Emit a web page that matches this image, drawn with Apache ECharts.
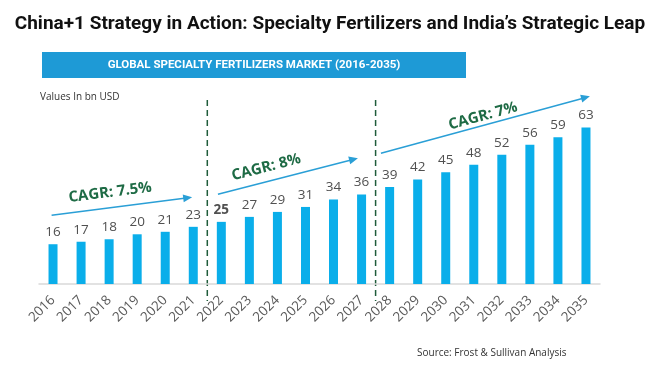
<!DOCTYPE html>
<html><head><meta charset="utf-8">
<script src="https://cdn.jsdelivr.net/npm/echarts@6/dist/echarts.min.js"></script>
<style>html,body{margin:0;padding:0;background:#fff}#c{width:660px;height:377px}</style>
</head><body><div id="c"></div>
<script>
const years = ['2016','2017','2018','2019','2020','2021','2022','2023','2024','2025','2026','2027','2028','2029','2030','2031','2032','2033','2034','2035'];
const values = [16,17,18,20,21,23,25,27,29,31,34,36,39,42,45,48,52,56,59,63];
const boldLabelYears = ['2022'];
const dividerYears = ['2022','2028'];
const cagrLabels = ['CAGR: 7.5%','CAGR: 8%','CAGR: 7%'];
// arrow ends in data units: [category index, value]
const arrowStarts = [[-0.05,27.7],[5.88,36.1],[11.69,52.6]];
const arrowEnds = [[4.96,34.9],[10.87,50.6],[19.14,75.5]];

const chart = echarts.init(document.getElementById('c'));
const FONT = '"Open Sans", "Noto Sans", sans-serif';
const option = {
  animation:false,
  grid:{left:39,right:60,top:110,bottom:93},
  xAxis:{type:'category',data:years,
    axisLine:{lineStyle:{color:'#d9d9d9',width:1.5}},axisTick:{show:false},
    axisLabel:{rotate:45,color:'#595959',fontSize:13.5,fontFamily:FONT,margin:14,interval:0}},
  yAxis:{type:'value',min:0,max:70,show:false},
  series:[{type:'bar',data:values.map((v,i)=>({value:v,label:{fontWeight:boldLabelYears.includes(years[i])?'bold':'normal'}})),
    barWidth:9,itemStyle:{color:'#0aaeea'},
    label:{show:true,position:'top',distance:5,color:'#505050',fontSize:13.5,fontFamily:FONT}}],
  graphic:[]
};
chart.setOption(option);

function px(idx,val){
  const p0 = chart.convertToPixel({xAxisIndex:0},0);
  const p1 = chart.convertToPixel({xAxisIndex:0},1);
  const y0 = chart.convertToPixel({yAxisIndex:0},0);
  const y1 = chart.convertToPixel({yAxisIndex:0},10);
  return [p0+(p1-p0)*idx, y0+(y1-y0)*val/10];
}
const g = [];
g.push({type:'text',x:330,y:24,style:{text:'China+1 Strategy in Action: Specialty Fertilizers and India\u2019s Strategic Leap',font:'bold 19px "Liberation Sans Narrow", Roboto, sans-serif',fill:'#111',align:'center',verticalAlign:'middle'}});
g.push({type:'rect',shape:{x:42,y:52,width:424,height:26},style:{fill:'#1e9ad6'}});
g.push({type:'text',x:254,y:65,style:{text:'GLOBAL SPECIALTY FERTILIZERS MARKET (2016-2035)',font:'bold 11.5px "Liberation Sans Narrow", Roboto, sans-serif',fill:'#fff',align:'center',verticalAlign:'middle'}});
g.push({type:'text',x:40,y:97,style:{text:'Values In bn USD',font:'10px '+FONT,fill:'#333',verticalAlign:'middle'}});
g.push({type:'text',x:417,y:353,style:{text:'Source: Frost & Sullivan Analysis',font:'10px '+FONT,fill:'#333',verticalAlign:'middle'}});
// dividers
dividerYears.forEach(y=>{
  const i = years.indexOf(y);
  const bx = px(i-0.5,0)[0];
  g.push({type:'line',shape:{x1:bx,y1:100,x2:bx,y2:301},style:{stroke:'#1f5c3a',lineWidth:1.5,lineDash:[6,4]}});
});
// arrows + labels
const offs = [15,14,9];
const mids = [0.43,0.37,0.5];
cagrLabels.forEach((t,k)=>{
  const a = px(...arrowStarts[k]), b = px(...arrowEnds[k]);
  const ang = Math.atan2(b[1]-a[1], b[0]-a[0]);
  g.push({type:'line',shape:{x1:a[0],y1:a[1],x2:b[0]-6*Math.cos(ang),y2:b[1]-6*Math.sin(ang)},style:{stroke:'#2a9fd6',lineWidth:1.5}});
  const L=9,W=4;
  const bx=b[0]-L*Math.cos(ang), by=b[1]-L*Math.sin(ang);
  g.push({type:'polygon',shape:{points:[[b[0],b[1]],[bx-W*Math.sin(ang),by+W*Math.cos(ang)],[bx+W*Math.sin(ang),by-W*Math.cos(ang)]]},style:{fill:'#2a9fd6'}});
  const m=mids[k];
  const mx=a[0]+(b[0]-a[0])*m, my=a[1]+(b[1]-a[1])*m;
  const cx = mx + offs[k]*Math.sin(ang), cy = my - offs[k]*Math.cos(ang);
  g.push({type:'text',x:cx,y:cy,rotation:-ang,originX:0,originY:0,style:{text:t,font:'bold 15px '+FONT,fill:'#1e6b45',align:'center',verticalAlign:'middle'}});
});
chart.setOption({graphic:g});
</script></body></html>
